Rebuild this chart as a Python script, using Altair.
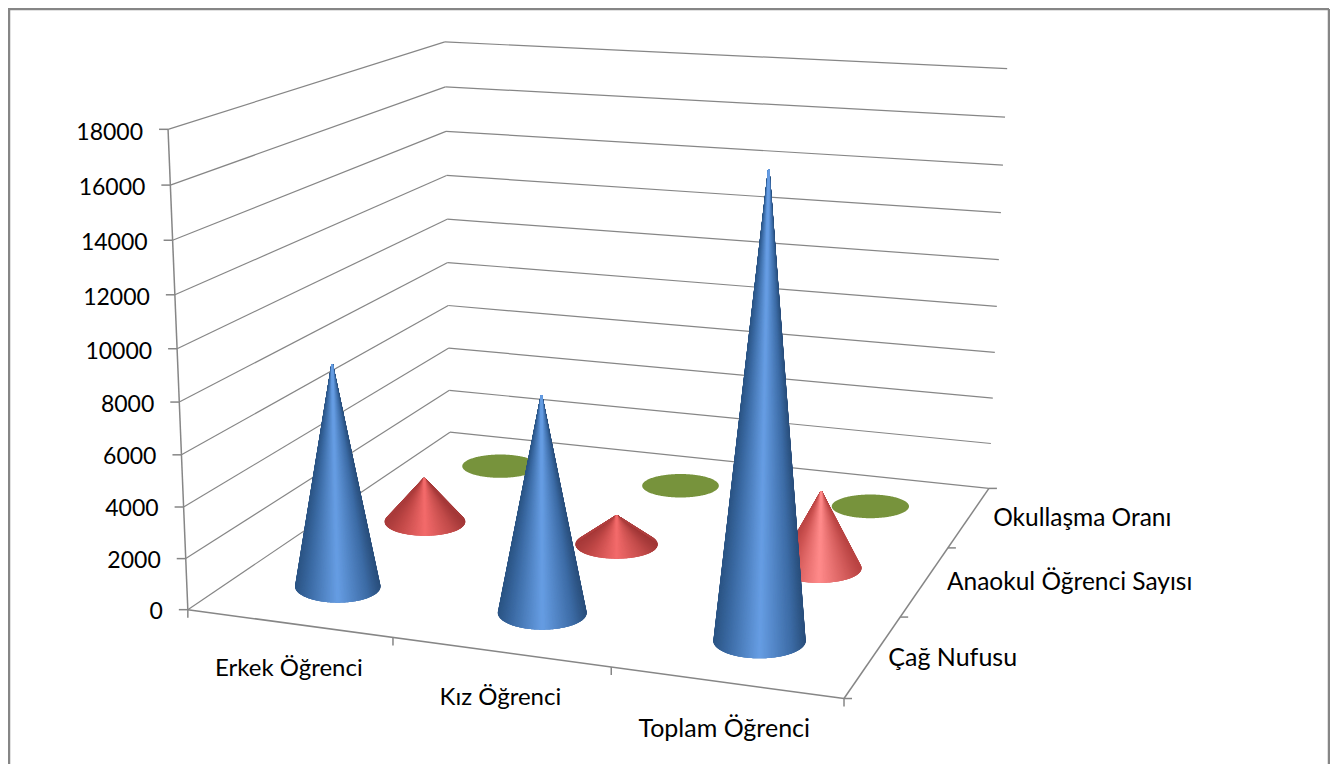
import numpy as np
import pandas as pd
import altair as alt

categories = ["Erkek Öğrenci", "Kız Öğrenci", "Toplam Öğrenci"]
series = ["Çağ Nufusu", "Anaokul Öğrenci Sayısı", "Okullaşma Oranı"]
cag_nufusu = [8770, 8350, 17120]
anaokul = [1880, 1220, 3130]
okullasma = [22, 15, 19]
value_ticks = [0, 2000, 4000, 6000, 8000, 10000, 12000, 14000, 16000, 18000]
VMAX = 18000

# calibration of the 3D view: (category pos, depth pos, value fraction) -> picture position
calib = [
    ((0, 0, 0), (188, 609)), ((1, 0, 0), (843, 698)), ((1, 1, 0), (987, 488)),
    ((0, 1, 0), (450, 433)), ((0, 0, 1), (168, 130)), ((0, 1, 1), (445, 41)),
    ((1, 1, 1), (1007, 69)), ((1/3, 0, 0), (393, 637)), ((2/3, 0, 0), (610, 668)),
    ((1, 1/3, 0), (902, 617)), ((1, 2/3, 0), (950, 548)),
]
A, b = [], []
for (u, d, z), (px, py) in calib:
    A.append([u, d, z, 1, 0, 0, 0, 0, -px*u, -px*d, -px*z]); b.append(px)
    A.append([0, 0, 0, 0, u, d, z, 1, -py*u, -py*d, -py*z]); b.append(py)
h = np.linalg.lstsq(np.array(A, float), np.array(b, float), rcond=None)[0]
P = np.array([h[:4], h[4:8], [h[8], h[9], h[10], 1.0]])


def project(u, d, v=0.0):
    q = P @ np.array([u, d, v / VMAX, 1.0])
    return q[0] / q[2], q[1] / q[2]


def hex2rgb(c):
    return np.array([int(c[i:i+2], 16) for i in (1, 3, 5)], float)


def shade(stops, t):
    ts = [s[0] for s in stops]
    rgb = [hex2rgb(s[1]) for s in stops]
    out = [np.interp(t, ts, [c[i] for c in rgb]) for i in range(3)]
    return "#%02x%02x%02x" % tuple(int(round(x)) for x in out)


BLUE = [(0, "#2c5585"), (0.15, "#3b6aa3"), (0.5, "#669de3"), (0.85, "#3d6ca6"), (1, "#2a4f7c")]
RED = [(0, "#a83a3a"), (0.15, "#bf4746"), (0.5, "#f26a6a"), (0.85, "#c04a49"), (1, "#a23737")]
RED_HI = [(0, "#bb4544"), (0.15, "#cf5554"), (0.5, "#ff8a8a"), (0.85, "#d05958"), (1, "#b84342")]
GREEN = "#77933c"
STROKE = "#868686"

X = alt.X("x:Q", scale=alt.Scale(domain=[8, 1330], range=[0, 1322]), axis=None)
Y = alt.Y("y:Q", scale=alt.Scale(domain=[8, 764], range=[0, 756]), axis=None)

# frame, grid lines, ticks
segs = []


def seg(a, b, w=1.2):
    segs.append(dict(x=a[0], y=a[1], x2=b[0], y2=b[1], w=w))


for v in value_ticks:
    a, c, e = project(0, 0, v), project(0, 1, v), project(1, 1, v)
    seg(a, c)
    seg(c, e)
    seg((a[0] - 9, a[1]), a, 1.5)
seg(project(0, 0), project(0, 0, VMAX), 1.5)
seg(project(0, 0), project(1, 0), 1.5)
seg(project(1, 0), project(1, 1), 1.5)
for k in range(4):
    p = project(k / 3, 0)
    seg(p, (p[0], p[1] + 8), 1.5)
    q = project(1, k / 3)
    seg(q, (q[0] + 8, q[1]), 1.5)
seg((9, 5), (9, 764), 2.5)
seg((9, 9), (1329, 9), 2.5)
seg((1329, 9), (1329, 764), 2.5)
lines = alt.Chart(pd.DataFrame(segs)).mark_rule(color=STROKE).encode(
    x=X, y=Y, x2="x2:Q", y2="y2:Q", strokeWidth=alt.StrokeWidth("w:Q", scale=None))

# text
txt = []
for v in value_ticks:
    p = project(0, 0, v)
    txt.append(dict(x=p[0] - 25, y=p[1] + 2 + 1.5 * v / VMAX, t=str(v), a="right", f=23))
cat_font = [24, 24, 25]
for k, c in enumerate(categories):
    p = project((k + 0.5) / 3, 0)
    txt.append(dict(x=p[0] - (1.5 if k == 2 else 0), y=p[1] + 46, t=c, a="center", f=cat_font[k]))
series_dx = [15, 22, 24]
series_font = [25, 24.5, 24.5]
for k, s in enumerate(series):
    p = project(1, (k + 0.5) / 3)
    txt.append(dict(x=p[0] + series_dx[k], y=p[1] + 2, t=s, a="left", f=series_font[k]))
tdf = pd.DataFrame(txt)
texts = []
for al in ("left", "center", "right"):
    texts.append(alt.Chart(tdf[tdf.a == al]).mark_text(
        align=al, baseline="middle", font="Lato", color="#000000"
    ).encode(x=X, y=Y, text="t:N", size=alt.Size("f:Q", scale=None)))


def cone(u, d, v, stops):
    cx, cy = project(u, d, 0)
    tx, ty = project(u, d, v)
    x0, _ = project(0, d, 0)
    x1, _ = project(1, d, 0)
    rx = 0.069 * (x1 - x0) * (1 + (u - 0.5) * 0.14 * (1 - d))
    ry = rx * (0.29 + 0.1 * (1 - d))
    T = np.array([(tx - cx) / rx, (ty - cy) / ry])
    dist = np.hypot(*T)
    if dist <= 1.02:      # flat: plain ellipse
        xs = cx + rx * np.cos(np.linspace(np.pi, 0, 121))
        up = cy - ry * np.sqrt(np.clip(1 - ((xs - cx) / rx) ** 2, 0, 1))
        lo = cy + ry * np.sqrt(np.clip(1 - ((xs - cx) / rx) ** 2, 0, 1))
        df = pd.DataFrame(dict(x=xs, y=up, y2=lo))
        return [alt.Chart(df).mark_area(color=GREEN).encode(x=X, y=Y, y2="y2:Q")]
    base = np.arctan2(T[1], T[0])
    off = np.arccos(1 / dist)
    a_r, a_l = base + off, base - off
    # visible rim runs from the right tangent through the bottom to the left tangent
    start, end = a_r, a_l + 2 * np.pi
    ang = np.linspace(start, end, int(4 * rx))
    rim_x = cx + rx * np.cos(ang)
    rim_y = cy + ry * np.sin(ang)
    # outline as an area: above = silhouette, below = lower half ellipse
    lx, ly = rim_x[-1], rim_y[-1]
    rx_, ry_ = rim_x[0], rim_y[0]
    xs = np.unique(np.concatenate([np.linspace(cx - rx, cx + rx, 161), [tx, lx, rx_]]))
    lo = cy + ry * np.sqrt(np.clip(1 - ((xs - cx) / rx) ** 2, 0, 1))
    up = cy - ry * np.sqrt(np.clip(1 - ((xs - cx) / rx) ** 2, 0, 1))
    for i, x in enumerate(xs):
        if lx <= x <= tx:
            up[i] = ty + (ly - ty) * (tx - x) / (tx - lx)
        elif tx < x <= rx_:
            up[i] = ty + (ry_ - ty) * (x - tx) / (rx_ - tx)
    shadeT = (rim_x - (cx - rx)) / (2 * rx)
    mid = shade(stops, 0.25)
    area = alt.Chart(pd.DataFrame(dict(x=xs, y=up, y2=lo))).mark_area(color=mid).encode(
        x=X, y=Y, y2="y2:Q")
    fan = pd.DataFrame(dict(x=tx, y=ty, x2=rim_x, y2=rim_y,
                            c=[shade(stops, t) for t in shadeT],
                            k=np.abs(shadeT - 0.5)))
    fan = fan.sort_values("k", ascending=False)   # lightest strokes last, so the tip stays light
    rules = alt.Chart(fan).mark_rule(strokeWidth=1.6).encode(
        x=X, y=Y, x2="x2:Q", y2="y2:Q", color=alt.Color("c:N", scale=None))
    return [area, rules]


layers = [lines] + texts
for k in range(3):
    layers += cone((k + 0.5) / 3, 5 / 6, okullasma[k], BLUE)
for k in range(3):
    layers += cone((k + 0.5) / 3, 0.5, anaokul[k], RED_HI if k == 2 else RED)
for k in range(3):
    layers += cone((k + 0.5) / 3, 1 / 6, cag_nufusu[k], BLUE)

chart = alt.layer(*layers).properties(
    width=1322, height=756, padding=0, autosize=alt.AutoSizeParams(type="none"),
    background="#ffffff"
).configure_view(stroke=None)

chart.save("out.html", embed_options={"renderer": "svg", "actions": False})
